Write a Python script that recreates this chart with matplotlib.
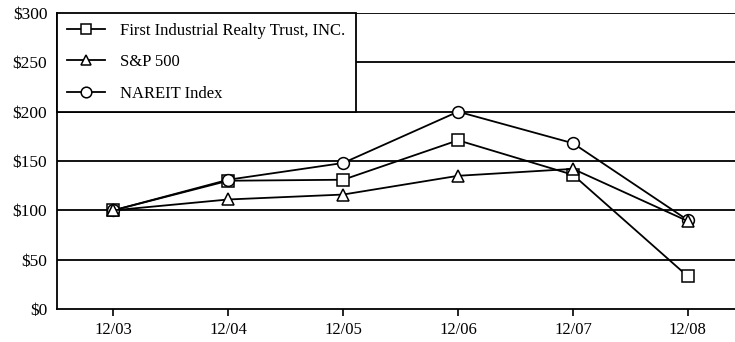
import numpy as np
from matplotlib import pyplot as plt

years = ['12/03', '12/04', '12/05', '12/06', '12/07', '12/08']
first_industrial = [100, 130, 131, 171, 136, 33]
sp500 = [100, 111, 116, 135, 142, 89]
nareit = [100, 131, 148, 200, 168, 90]
y_ticks = [0, 50, 100, 150, 200, 250, 300]

plt.rcParams['font.family'] = ['Liberation Serif', 'DejaVu Serif']

fig = plt.figure(figsize=(7.35, 3.42), dpi=100)
ax = fig.add_axes([57 / 735, 1 - 309 / 342, 1 - 57 / 735, (309 - 13) / 342])

x = np.arange(len(years))
style = dict(color='black', linewidth=1.3, markersize=8.5, markerfacecolor='white',
             markeredgecolor='black', markeredgewidth=1.1, clip_on=False)
ax.plot(x, first_industrial, marker='s', label='First Industrial Realty Trust, INC.',
        zorder=3, **style)
ax.plot(x, sp500, marker='^', label='S&P 500', zorder=4, **style)
ax.plot(x, nareit, marker='o', label='NAREIT Index', zorder=3, **style)

for v in y_ticks[1:]:
    ax.axhline(v, color='black', linewidth=1.3, zorder=1)

ax.set_xlim(-0.49, 5.41)
ax.set_ylim(0, 300)
ax.set_xticks(x)
ax.set_xticklabels(years, fontsize=12)
ax.set_yticks(y_ticks)
ax.set_yticklabels(['$%d' % v for v in y_ticks], fontsize=12.5)
ax.tick_params(axis='x', direction='out', length=5, width=1.2, pad=4)
ax.tick_params(axis='y', length=0, pad=7)
for side in ['right', 'top']:
    ax.spines[side].set_visible(False)
ax.spines['left'].set_linewidth(1.3)
ax.spines['bottom'].set_linewidth(1.3)

leg = ax.legend(loc='upper left', bbox_to_anchor=(0, 1.0), fontsize=12,
                frameon=True, fancybox=False, framealpha=1, edgecolor='black',
                handlelength=2.3, borderpad=0.6, labelspacing=0.92,
                handletextpad=0.9, borderaxespad=0, markerscale=0.9)
leg.get_frame().set_linewidth(1.3)
leg.set_zorder(5)

fig.savefig('out.png', dpi=100)
